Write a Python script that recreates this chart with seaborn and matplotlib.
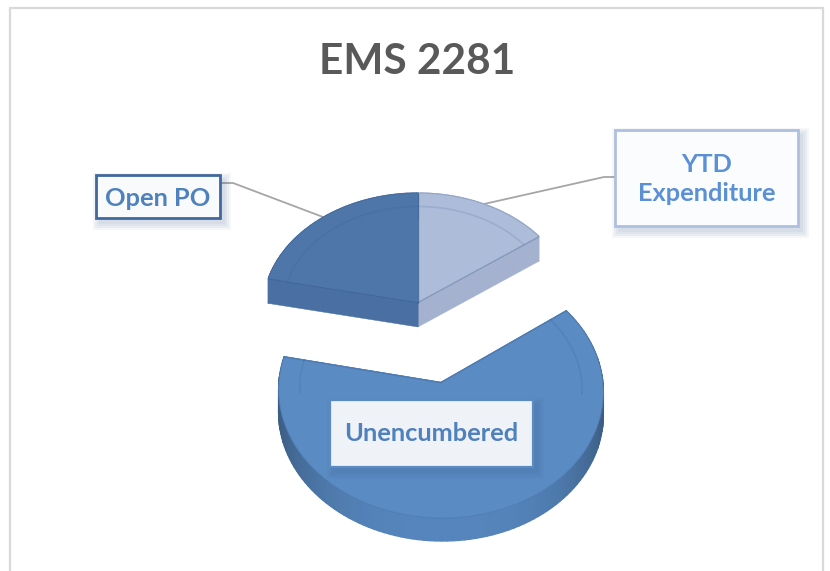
import numpy as np
import seaborn as sns
import matplotlib.pyplot as plt
from matplotlib.patches import Polygon, Rectangle

sns.set_theme(style="white")
plt.rcParams['font.family'] = ['Lato', 'DejaVu Sans']

# chart values
title = "EMS 2281"
categories = ["YTD\nExpenditure", "Unencumbered", "Open PO"]
shares = [15.0, 63.3, 21.7]
explode = [0, 0.676, 0]

top_colors = sns.color_palette(["#adbcd9", "#5b8bc3", "#4f76a8"])
side_colors = sns.color_palette(["#a4b2cf", "#5585bc", "#4a6fa3"])
thickness = [25, 23, 25]

# perspective of the tilted pie, in pixels
CX, CY = 418, 302
RX, RY, TILT = 155, 116, 0.065


def project(x, y, drop=0):
    s = 1 / (1 + TILT * y)
    return CX + RX * x * s, CY - RY * y * s + drop


def wedge_outline(w, r=1.0, steps=120):
    t = np.radians(np.linspace(w.theta1, w.theta2, steps))
    return w.center[0] + r * np.cos(t), w.center[1] + r * np.sin(t)


fig = plt.figure(figsize=(8.30, 5.71), dpi=100)
ax = fig.add_axes([0, 0, 1, 1])

# pie works out the angles and the exploded centres
wedges, _ = ax.pie(shares, explode=explode, startangle=90, counterclock=False)
for w in wedges:
    w.set_visible(False)

ax.set_aspect('auto')
ax.set_xlim(0, 830)
ax.set_ylim(571, 0)
ax.axis('off')

# slide frame, it runs off the bottom
ax.add_patch(Rectangle((10, 8), 813, 600, fc='white', ec='#d9d9d9', lw=1.6, zorder=0))

# leader lines
ax.plot([220, 233, 323], [183, 183, 217], color='#a6a6a6', lw=1.3, zorder=1)
ax.plot([614, 604, 484], [177, 177, 204], color='#a6a6a6', lw=1.3, zorder=1)

# back slices first, exploded one in front
for i in [2, 0, 1]:
    w = wedges[i]
    ox, oy = wedge_outline(w)
    cx0, cy0 = w.center
    rim_x, rim_y = project(ox, oy)
    apex = project(cx0, cy0)
    dz = thickness[i]
    side = np.array(side_colors[i])

    # cut faces
    for k in [0, -1]:
        quad = [apex, (rim_x[k], rim_y[k]), (rim_x[k], rim_y[k] + dz), (apex[0], apex[1] + dz)]
        ax.add_patch(Polygon(quad, fc=side, ec=side, lw=0.3, zorder=2 + i))

    # rim, darker towards the sides
    for k in range(len(ox) - 1):
        shade = 1 - 0.3 * abs(ox[k] - cx0) ** 3 if i == 1 else 1
        quad = [(rim_x[k], rim_y[k]), (rim_x[k + 1], rim_y[k + 1]),
                (rim_x[k + 1], rim_y[k + 1] + dz), (rim_x[k], rim_y[k] + dz)]
        c = side * shade
        ax.add_patch(Polygon(quad, fc=c, ec=c, lw=1.0, zorder=2 + i))

    # top face
    top = np.column_stack([np.r_[apex[0], rim_x], np.r_[apex[1], rim_y]])
    ax.add_patch(Polygon(top, fc=top_colors[i], ec=top_colors[i], lw=0.5, zorder=2 + i))

    # bevel marks on the top face, only towards the back of the slice
    ix, iy = wedge_outline(w, r=0.87)
    bx, by = project(ix, iy)
    keep = iy > cy0 - 0.1
    bx[~keep] = np.nan
    ax.plot(bx, by, color='#2f5585', alpha=0.14, lw=1.2, zorder=2 + i)
    front_x, front_y = project(ox, oy)
    ax.plot(front_x, front_y, color='#2f5585', alpha=0.18, lw=0.8, zorder=2 + i)
    ax.plot([apex[0], rim_x[0]], [apex[1] + 0.5, rim_y[0] + 0.5], color='#2f5585', alpha=0.3, lw=1, zorder=2 + i)
    ax.plot([apex[0], rim_x[-1]], [apex[1] + 0.5, rim_y[-1] + 0.5], color='#2f5585', alpha=0.3, lw=1, zorder=2 + i)

# data labels, boxes with a soft shadow
boxes = {
    "Open PO": ((96, 175, 124, 43), '#f8fafc', '#41689f', '#4f81bd', 2.0, 1.5),
    "YTD\nExpenditure": ((615, 130, 183, 96), '#fbfcfe', '#aebfdf', '#5b8fd6', 2.0, 1.0),
    "Unencumbered": ((330, 400, 203, 67), '#eff2f7', '#5b8bc3', '#4f81bd', 1.6, 0),
}
for name in categories:
    (x, y, bw, bh), face, edge, ink, lw, nudge = boxes[name]
    for grow in [7, 5, 3, 1]:
        ax.add_patch(Rectangle((x + 4 - grow, y + 5 - grow), bw + 2 * grow, bh + 2 * grow,
                               fc='#2f5585', ec='none', alpha=0.05, zorder=8))
    ax.add_patch(Rectangle((x, y), bw, bh, fc=face, ec=edge, lw=lw, zorder=9))
    ax.text(x + bw / 2, y + bh / 2 + nudge, name, ha='center', va='center', color=ink,
            fontsize=18.3, fontweight='bold', linespacing=1.3, zorder=10)

ax.text(417, 62, title, ha='center', va='center', color='#595959',
        fontsize=30.5, fontweight='bold', zorder=10)

fig.savefig('out.png', dpi=100)
